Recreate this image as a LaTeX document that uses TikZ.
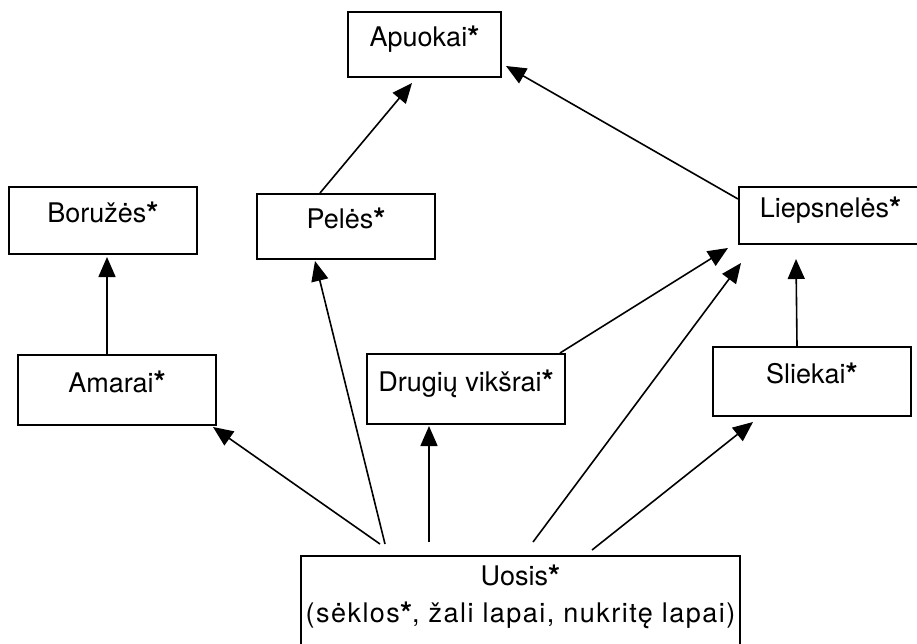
\documentclass[tikz,border=0pt]{standalone}
\usepackage{fontspec}
\setmainfont{TeX Gyre Heros}
\usetikzlibrary{arrows.meta,calc}
\newcommand\zv{{\bfseries\fontsize{31}{31}\selectfont\raisebox{-1.5pt}{*}}}
\begin{document}
\begin{tikzpicture}[x=1pt, y=-1pt,
  >={Triangle[length=20pt,width=17pt]},
  line width=1.6pt,
  box/.style={draw, line width=2pt, inner sep=0pt, align=center, text height=0.75em, text depth=0.35em},
  every node/.style={font=\fontsize{27}{37}\selectfont}
]
\useasboundingbox (0,0) rectangle (917,643);
\node[box, minimum width=153pt, minimum height=65pt] (a) at (424.5,44.5) {Apuokai\zv};
\node[box, minimum width=188pt, minimum height=67pt] (b) at (103,220.5) {Boružės\zv};
\node[box, minimum width=178pt, minimum height=65pt] (p) at (346,226.5) {Pelės\zv};
\node[box, minimum width=183pt, minimum height=57pt] (l) at (830.5,215.5) {Liepsnelės\zv};
\node[box, minimum width=198pt, minimum height=70pt] (m) at (117,390) {Amarai\zv};
\node[box, minimum width=198pt, minimum height=70pt] (d) at (466,389) {Drugių vikšrai\zv};
\node[box, minimum width=198pt, minimum height=69pt] (s) at (812,381.5) {Sliekai\zv};
\node[box, minimum width=439pt, minimum height=96pt, text height=57pt, text depth=19.6pt] (u) at (520.5,604)
  {Uosis\zv\\{\addfontfeature{LetterSpace=5.5}(sėklos\zv, žali lapai, nukritę lapai)}};
\draw[->] ($(p.north)+(-26,0)$) -- ($(a.south)+(-12.5,5)$);
\draw[->] ($(l.north west)+(0,13)$) -- ($(a.south east)+(4,-12)$);
\draw[->] ($(m.north)+(-10,0)$) -- ($(b.south)+(4,2)$);
\draw[->] ($(u.north)+(-140.5,-11)$) -- ($(m.south east)+(-4,1)$);
\draw[->] ($(u.north)+(-135.5,-11)$) -- ($(p.south)+(-31,1)$);
\draw[->] ($(u.north)+(-91.5,-13)$) -- ($(d.south)+(-37,1)$);
\draw[->] ($(d.north east)+(-6,0)$) -- ($(l.south west)+(-10,3)$);
\draw[->] ($(u.north)+(12.5,-13)$) -- ($(l.south west)+(3,18)$);
\draw[->] ($(u.north)+(71.5,-5)$) -- ($(s.south west)+(41,5)$);
\draw[->] ($(s.north)+(-15,0)$) -- ($(l.south west)+(58,14)$);
\end{tikzpicture}
\end{document}
